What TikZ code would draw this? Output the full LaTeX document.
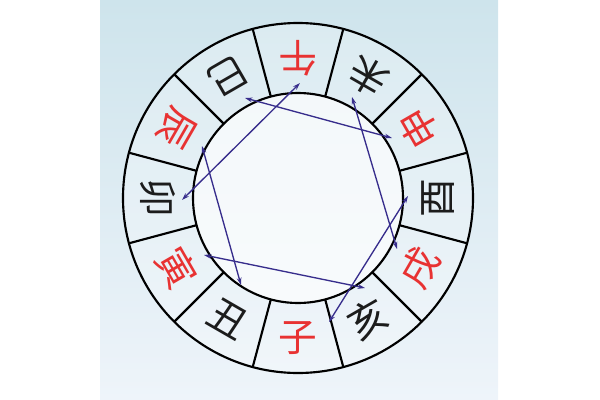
\documentclass[tikz,border=0pt]{standalone}
\usepackage{fontspec}
\newfontfamily\cjk{Noto Sans CJK SC}
\usetikzlibrary{arrows.meta}
\definecolor{panelTop}{RGB}{206,228,236}
\definecolor{panelBot}{RGB}{238,244,250}
\definecolor{zhiRed}{RGB}{232,50,50}
\definecolor{zhiBlack}{RGB}{28,28,28}
\definecolor{poLine}{RGB}{55,45,140}
\tikzset{every picture/.style={line width=0.75pt}}

\begin{document}
\begin{tikzpicture}[x=0.75pt,y=0.75pt,yscale=-1,xscale=1,
	ring/.style={draw=black,line width=1.6pt},
	zhi/.style={font=\cjk\fontsize{29}{29}\selectfont,inner sep=0pt},
	po/.style={draw=poLine,line width=1pt,{Stealth[length=5.5pt,width=3.5pt]}-{Stealth[length=5.5pt,width=3.5pt]}}]
	\useasboundingbox (0,0) rectangle (600,400);
	%Panel
	\fill[top color=panelTop,bottom color=panelBot] (100,0) rectangle (498,400);
	\coordinate (c) at (298,198);
	%Rings
	\draw[ring,fill=white,fill opacity=0.25] (c) circle (175);
	\draw[ring,fill=white,fill opacity=0.65] (c) circle (105);
	\foreach \a in {15,45,...,345}
		\draw[ring] (c) ++(\a:105) -- ++(\a:70);
	%Branches
	\foreach \b/\col [count=\i from 0] in {子/zhiRed,丑/zhiBlack,寅/zhiRed,卯/zhiBlack,辰/zhiRed,巳/zhiBlack,午/zhiRed,未/zhiBlack,申/zhiRed,酉/zhiBlack,戌/zhiRed,亥/zhiBlack}
		\path (c) ++(90+30*\i:140) node[zhi,text=\col,rotate=-30*\i] (z\i) {\b};
	
	%Arrow ends
	\coordinate (mao) at (182,200);
	\coordinate (wu) at (300,83);
	\coordinate (si) at (245,98);
	\coordinate (shen) at (392,138);
	\coordinate (wei) at (352,97);
	\coordinate (xu) at (397,249);
	\coordinate (you) at (408,196);
	\coordinate (zi) at (329,322);
	\coordinate (yin) at (204,255);
	\coordinate (hai) at (365,288);
	\coordinate (chen) at (202,146);
	\coordinate (chou) at (241,285);
	%Links
	\draw[po] (mao) -- (wu);
	\draw[po] (si) -- (shen);
	\draw[po] (wei) -- (xu);
	\draw[po] (you) -- (zi);
	\draw[po] (yin) -- (hai);
	\draw[po] (chou) -- (chen);
\end{tikzpicture}
\end{document}
